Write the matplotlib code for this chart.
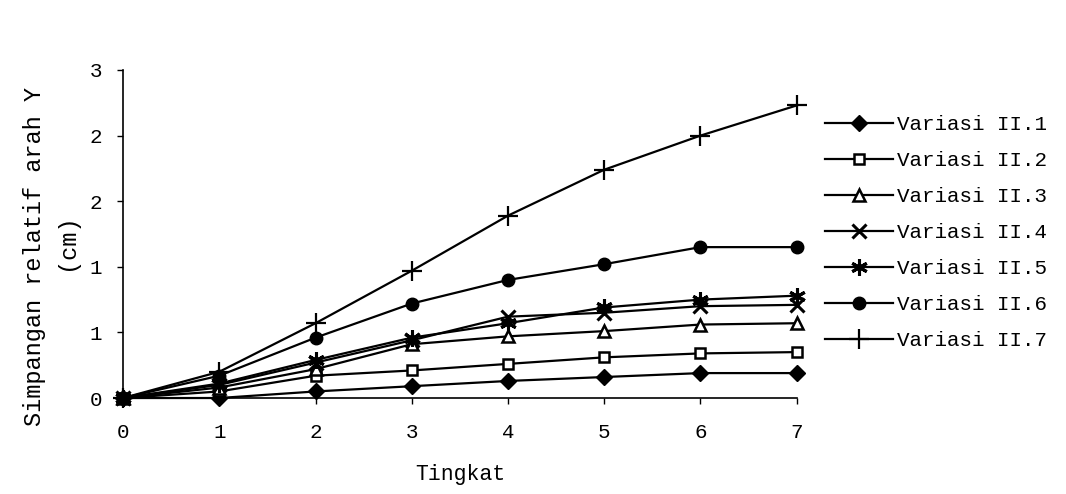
import matplotlib
matplotlib.use("Agg")
import matplotlib.pyplot as plt

tingkat = [0, 1, 2, 3, 4, 5, 6, 7]
v1 = [0, 0.00, 0.05, 0.09, 0.13, 0.16, 0.19, 0.19]
v2 = [0, 0.05, 0.17, 0.21, 0.26, 0.31, 0.34, 0.35]
v3 = [0, 0.08, 0.22, 0.41, 0.47, 0.51, 0.56, 0.57]
v4 = [0, 0.10, 0.27, 0.44, 0.62, 0.65, 0.70, 0.71]
v5 = [0, 0.11, 0.29, 0.46, 0.57, 0.69, 0.75, 0.78]
v6 = [0, 0.17, 0.46, 0.72, 0.90, 1.02, 1.15, 1.15]
v7 = [0, 0.20, 0.57, 0.97, 1.39, 1.74, 2.00, 2.23]
labels = ["Variasi II.1", "Variasi II.2", "Variasi II.3", "Variasi II.4",
          "Variasi II.5", "Variasi II.6", "Variasi II.7"]
yticks = [0, 0.5, 1.0, 1.5, 2.0, 2.5]
yticklabels = ["0", "1", "1", "2", "2", "3"]

plt.rcParams['font.family'] = ['Liberation Mono', 'DejaVu Sans Mono']

fig = plt.figure(figsize=(10.66, 4.94), dpi=100)
ax = fig.add_axes([0.1154, 0.1943, 0.632, 0.664])

series = [v1, v2, v3, v4, v5, v6, v7]
styles = [
    dict(marker='D', markersize=8, markerfacecolor='black'),
    dict(marker='s', markersize=7, markerfacecolor='white', markeredgewidth=1.8),
    dict(marker='^', markersize=8, markerfacecolor='white', markeredgewidth=1.8),
    dict(marker='x', markersize=10, markeredgewidth=2.2),
    dict(marker=(6, 2, 0), markersize=12, markeredgewidth=2.2),
    dict(marker='o', markersize=9, markerfacecolor='black'),
    dict(marker='+', markersize=14, markeredgewidth=1.6),
]
handles = []
for vals, lab, st in zip(series, labels, styles):
    h, = ax.plot(tingkat, vals, color='black', linewidth=1.6,
                 markeredgecolor='black', label=lab, clip_on=False, **st)
    handles.append(h)

ax.set_xlim(0, 7)
ax.set_ylim(0, 2.5)
ax.set_xticks(tingkat)
ax.set_yticks(yticks)
ax.set_yticklabels(yticklabels)
for s in ['top', 'right']:
    ax.spines[s].set_visible(False)
for s in ['left', 'bottom']:
    ax.spines[s].set_linewidth(1.2)
ax.tick_params(direction='out', length=4, width=1, labelsize=15)
ax.tick_params(axis='x', pad=14)
ax.tick_params(axis='y', pad=11)

ax.set_xlabel("Tingkat", fontsize=15.5, labelpad=16)

fig.text(35 / 1066, 1 - 256 / 494, "Simpangan relatif arah Y", rotation=90,
         fontsize=17, ha='center', va='center')
fig.text(67 / 1066, 1 - 242 / 494, "(cm)", rotation=90,
         fontsize=17, ha='center', va='center')

fig.legend(handles=handles, loc='upper left', bbox_to_anchor=(825 / 1066, 1 - 115 / 494),
           frameon=False, fontsize=15, handlelength=3.27, handletextpad=0.2,
           labelspacing=0.82, borderaxespad=0, borderpad=0)

fig.savefig("out.png", dpi=100)
